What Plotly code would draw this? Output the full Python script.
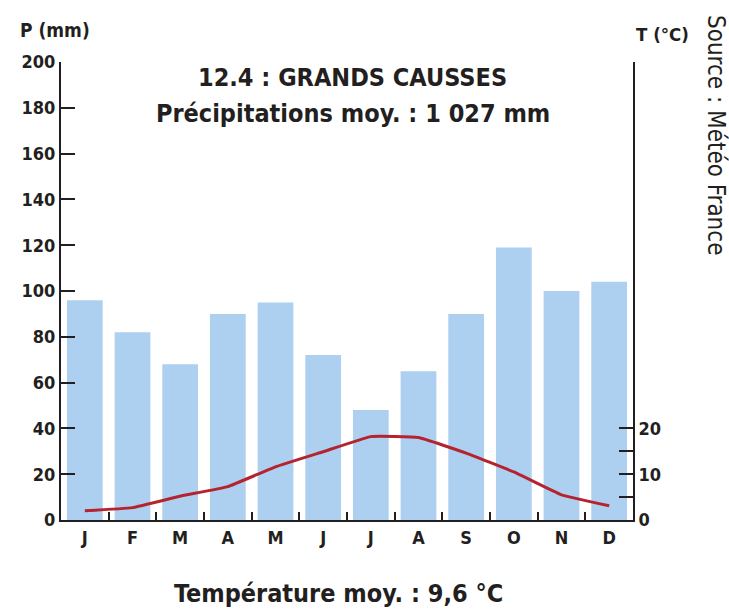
import plotly.graph_objects as go

months = ["J", "F", "M", "A", "M", "J", "J", "A", "S", "O", "N", "D"]
precip_mm = [96, 82, 68, 90, 95, 72, 48, 65, 90, 119, 100, 104]
temp_c = [2.0, 2.7, 5.2, 7.3, 11.6, 14.9, 18.2, 18.0, 14.6, 10.5, 5.5, 3.1]
p_ticks = [0, 20, 40, 60, 80, 100, 120, 140, 160, 180, 200]
t_ticks = [0, 5, 10, 15, 20, 100]
t_ticktext = ["0", "", "10", "", "20", ""]

idx = [str(i) for i in range(len(months))]
ink = "#231f20"
font_fam = "DejaVu Sans Condensed, DejaVu Sans"
narrow = "Liberation Sans Narrow, DejaVu Sans Condensed"

W, H = 729, 610
L, R, T, B = 61, 96, 62, 90

fig = go.Figure()
fig.add_trace(go.Bar(x=idx, y=precip_mm, width=0.75,
                     marker=dict(color="#aed0f0", line=dict(width=0)), yaxis="y"))
fig.add_trace(go.Scatter(x=idx, y=temp_c, mode="lines",
                         line=dict(color="#b5232f", width=3, shape="spline", smoothing=0.3),
                         yaxis="y2"))

tickfont = dict(size=18, family=font_fam, weight="bold", color=ink)
fig.update_layout(
    width=W, height=H,
    margin=dict(l=L, r=R, t=T, b=B, autoexpand=False),
    paper_bgcolor="white", plot_bgcolor="white",
    showlegend=False,
    font=dict(family=font_fam, color=ink, size=17),
    xaxis=dict(
        type="category", range=[-0.5, 11.5], tickmode="array", tickvals=idx, ticktext=months,
        tickson="boundaries",
        showline=True, linecolor=ink, linewidth=2,
        ticks="inside", ticklen=8, tickwidth=2, tickcolor=ink,
        showgrid=False, zeroline=False, automargin=False,
        tickfont=tickfont,
    ),
    yaxis=dict(
        range=[0, 200], tickmode="array", tickvals=p_ticks,
        showline=True, linecolor=ink, linewidth=2,
        ticks="inside", ticklen=14, tickwidth=2, tickcolor=ink,
        showgrid=False, zeroline=False, automargin=False,
        tickfont=tickfont,
    ),
    yaxis2=dict(
        range=[0, 100], overlaying="y", side="right", tickmode="array",
        tickvals=t_ticks, ticktext=t_ticktext,
        showline=True, linecolor=ink, linewidth=2,
        ticks="inside", ticklen=14, tickwidth=2, tickcolor=ink,
        showgrid=False, zeroline=False, automargin=False,
        tickfont=tickfont,
    ),
)


def px_to_paper(xp, yp):
    return (xp - L) / (W - L - R), 1 - (yp - T) / (H - T - B)


ann = [
    dict(text="P (mm)", x=18, y=30, xanchor="left", size=19),
    dict(text="T (°C)", x=634, y=34, xanchor="left", size=18.5),
    dict(text="12.4 : GRANDS CAUSSES", x=352, y=78, xanchor="center", size=25),
    dict(text="Précipitations moy. : 1 027 mm", x=353, y=113, xanchor="center", size=25),
    dict(text="Température moy. : 9,6 °C", x=338, y=593, xanchor="center", size=25),
]
for a in ann:
    px, py = px_to_paper(a["x"], a["y"])
    fig.add_annotation(text=a["text"], xref="paper", yref="paper", x=px, y=py,
                       xanchor=a["xanchor"], yanchor="middle", showarrow=False,
                       font=dict(family=font_fam, size=a["size"], weight="bold", color=ink))
px, py = px_to_paper(716, 135)
fig.add_annotation(text="Source : Météo France", xref="paper", yref="paper", x=px, y=py,
                   xanchor="center", yanchor="middle", showarrow=False, textangle=90,
                   font=dict(family=narrow, size=24, color=ink))

fig.write_html("out.html", config={"displayModeBar": False},
               post_script="document.body.style.margin='0';document.body.style.padding='0';")
